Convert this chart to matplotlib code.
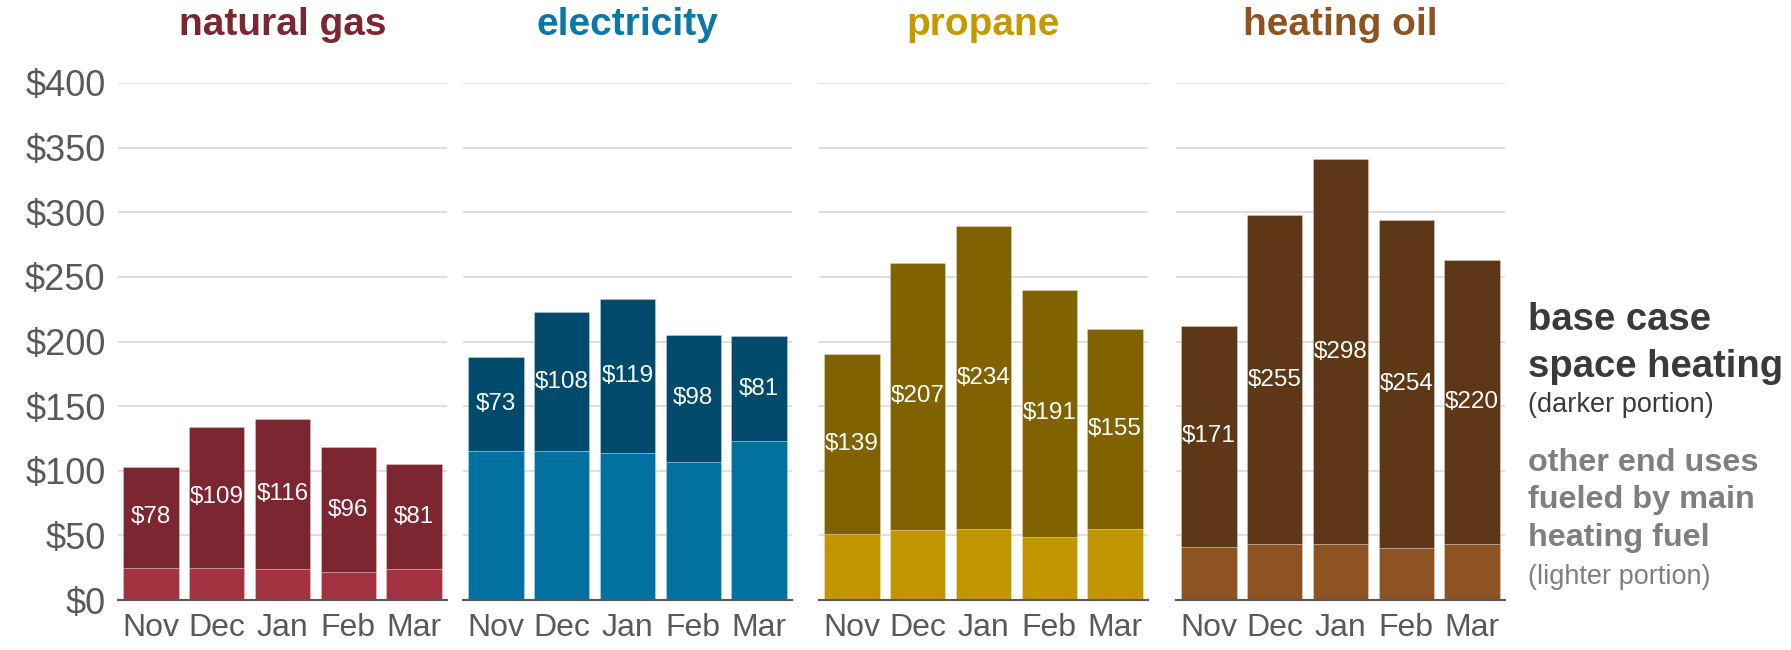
import matplotlib
matplotlib.use("Agg")
import matplotlib.pyplot as plt

plt.rcParams['font.family'] = ['Liberation Sans', 'DejaVu Sans']

months = ['Nov', 'Dec', 'Jan', 'Feb', 'Mar']
fuels = ['natural gas', 'electricity', 'propane', 'heating oil']

# space heating (darker portion), labelled on the bars
heat_ng = [78, 109, 116, 96, 81]
heat_el = [73, 108, 119, 98, 81]
heat_pr = [139, 207, 234, 191, 155]
heat_ho = [171, 255, 298, 254, 220]

# other end uses (lighter portion)
other_ng = [25, 25, 24, 22, 24]
other_el = [115, 115, 114, 107, 123]
other_pr = [51, 54, 55, 49, 55]
other_ho = [41, 43, 43, 40, 43]

yticks = [0, 50, 100, 150, 200, 250, 300, 350, 400]

heat = [heat_ng, heat_el, heat_pr, heat_ho]
other = [other_ng, other_el, other_pr, other_ho]
dark = ['#7b2631', '#004b6b', '#806300', '#5e3816']
light = ['#a33340', '#0071a1', '#c29600', '#8e5322']
title_col = ['#7b2631', '#0b78a6', '#c49a00', '#8e5322']

W, H = 1791, 650
fig = plt.figure(figsize=(W / 100, H / 100), dpi=100)

lefts = [118, 463, 819, 1176]
width = 329
bottom, top = 600, 83

for i in range(4):
    ax = fig.add_axes([lefts[i] / W, (H - bottom) / H, width / W, (bottom - top) / H])
    x = range(len(months))
    ax.bar(x, other[i], width=0.84, color=light[i], edgecolor=(1, 1, 1, 0.3), linewidth=0.6, zorder=2)
    ax.bar(x, heat[i], bottom=other[i], width=0.84, color=dark[i], edgecolor=(1, 1, 1, 0.3), linewidth=0.6, zorder=2)
    for j in x:
        ax.text(j, other[i][j] + heat[i][j] / 2, f"${heat[i][j]}", ha='center', va='center',
                color='white', fontsize=17.5, zorder=3)

    ax.set_xlim(-0.5, 4.5)
    ax.set_ylim(0, 400)
    ax.set_yticks(yticks)
    if i == 0:
        ax.set_yticklabels([f"${v}" for v in yticks], fontsize=26, color='#595959')
    else:
        ax.set_yticklabels([])
    ax.set_xticks(list(x))
    ax.set_xticklabels(months, fontsize=23, color='#595959')
    ax.tick_params(axis='y', length=0, pad=9)
    ax.tick_params(axis='x', length=0, pad=9)
    ax.grid(axis='y', color='#dcdcdc', linewidth=1.3, zorder=0)
    ax.set_axisbelow(True)
    for s in ['top', 'right', 'left']:
        ax.spines[s].set_visible(False)
    ax.spines['bottom'].set_color('#595959')
    ax.spines['bottom'].set_linewidth(1.5)
    ax.spines['bottom'].set_zorder(4)

    fig.text((lefts[i] + width / 2) / W, 1 - 25 / H, fuels[i], ha='center', va='center',
             fontsize=28, fontweight='bold', color=title_col[i])

# legend text on the right
lx = 1528 / W
fig.text(lx, 1 - 320 / H, 'base case', fontsize=27.5, fontweight='bold', color='#3a3a3a', va='center')
fig.text(lx, 1 - 367 / H, 'space heating', fontsize=27.5, fontweight='bold', color='#3a3a3a', va='center')
fig.text(lx, 1 - 405 / H, '(darker portion)', fontsize=19.5, color='#3a3a3a', va='center')
fig.text(lx, 1 - 463 / H, 'other end uses', fontsize=23.3, fontweight='bold', color='#7f7f7f', va='center')
fig.text(lx, 1 - 500 / H, 'fueled by main', fontsize=23.3, fontweight='bold', color='#7f7f7f', va='center')
fig.text(lx, 1 - 538 / H, 'heating fuel', fontsize=23.3, fontweight='bold', color='#7f7f7f', va='center')
fig.text(lx, 1 - 577 / H, '(lighter portion)', fontsize=19.5, color='#7f7f7f', va='center')

fig.savefig('out.png', dpi=100)
